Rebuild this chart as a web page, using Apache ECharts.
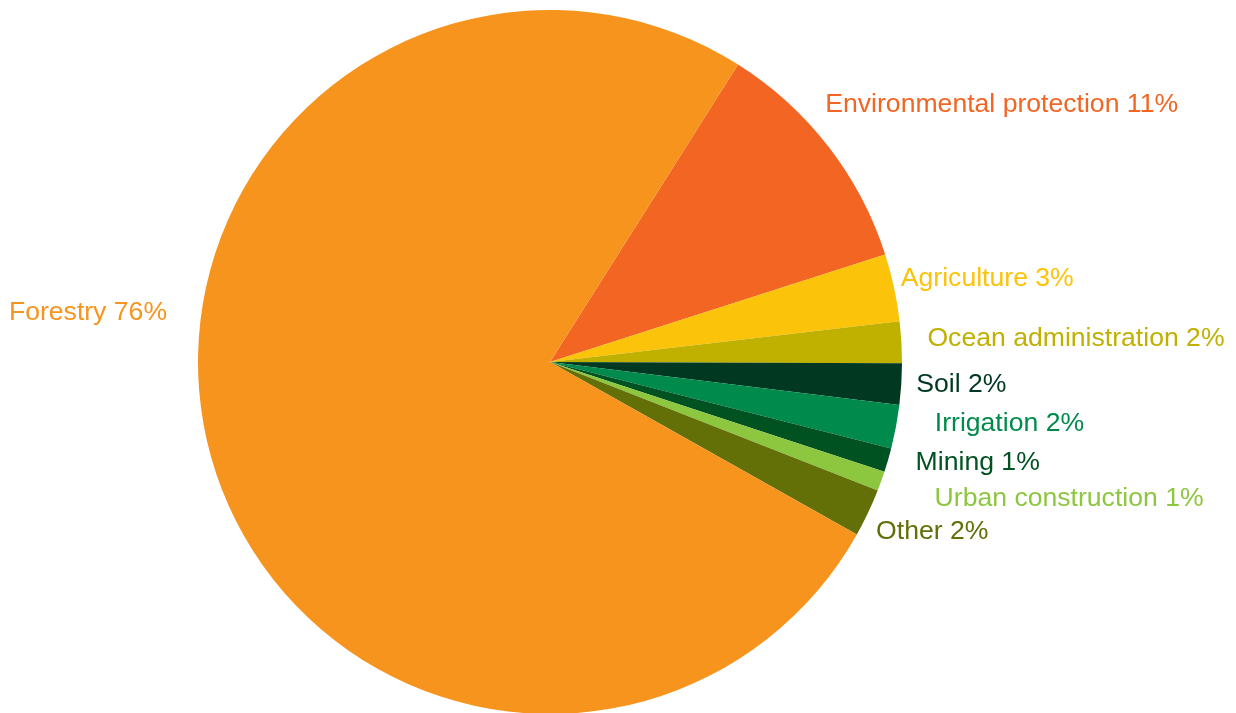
<!DOCTYPE html>
<html>
<head>
<meta charset="utf-8">
<title>Funding by sector</title>
<script src="https://cdn.jsdelivr.net/npm/echarts@6/dist/echarts.min.js"></script>
<style>
  html, body { margin: 0; padding: 0; background: #fff; }
  #chart { width: 1236px; height: 713px; }
</style>
</head>
<body>
<div id="chart"></div>
<script>
  // 各部门占比（%），顺时针从 Environmental protection 开始
  const sectors = ['Environmental protection', 'Agriculture', 'Ocean administration', 'Soil',
    'Irrigation', 'Mining', 'Urban construction', 'Other', 'Forestry'];
  const shares = [11.1, 3.1, 1.9, 1.9, 2.0, 1.1, 0.9, 2.2, 75.9];
  const colors = ['#F26522', '#FCC30B', '#C0B000', '#003822',
    '#008A4B', '#005221', '#8DC63F', '#636F07', '#F7941D'];

  // 标签微调（相对默认外侧位置的偏移）
  const labelNudge = [[-26, -36], [-18, -7], [1, -3], [-10, 0],
    [14, -5], [3, 0], [29, 14], [-16, 15], [-17, -138]];

  const chart = echarts.init(document.getElementById('chart'));

  const option = {
    animation: false,
    series: [{
      type: 'pie',
      center: [550, 362],
      radius: 352,
      startAngle: 57.7,
      clockwise: true,
      avoidLabelOverlap: false,
      label: {
        show: true,
        position: 'outside',
        fontFamily: '"Liberation Sans", Arial, sans-serif',
        fontSize: 26.6,
        formatter: function (p) {
          return p.name + ' ' + Math.round(p.percent) + '%';
        }
      },
      labelLine: { show: false, length: 10, length2: 10 },
      labelLayout: function (params) {
        const n = labelNudge[params.dataIndex];
        return { hideOverlap: false, moveOverlap: false, dx: n[0], dy: n[1] };
      },
      data: sectors.map(function (name, i) {
        return {
          name: name,
          value: shares[i],
          itemStyle: { color: colors[i] },
          label: { color: colors[i] }
        };
      })
    }]
  };

  chart.setOption(option);
</script>
</body>
</html>
